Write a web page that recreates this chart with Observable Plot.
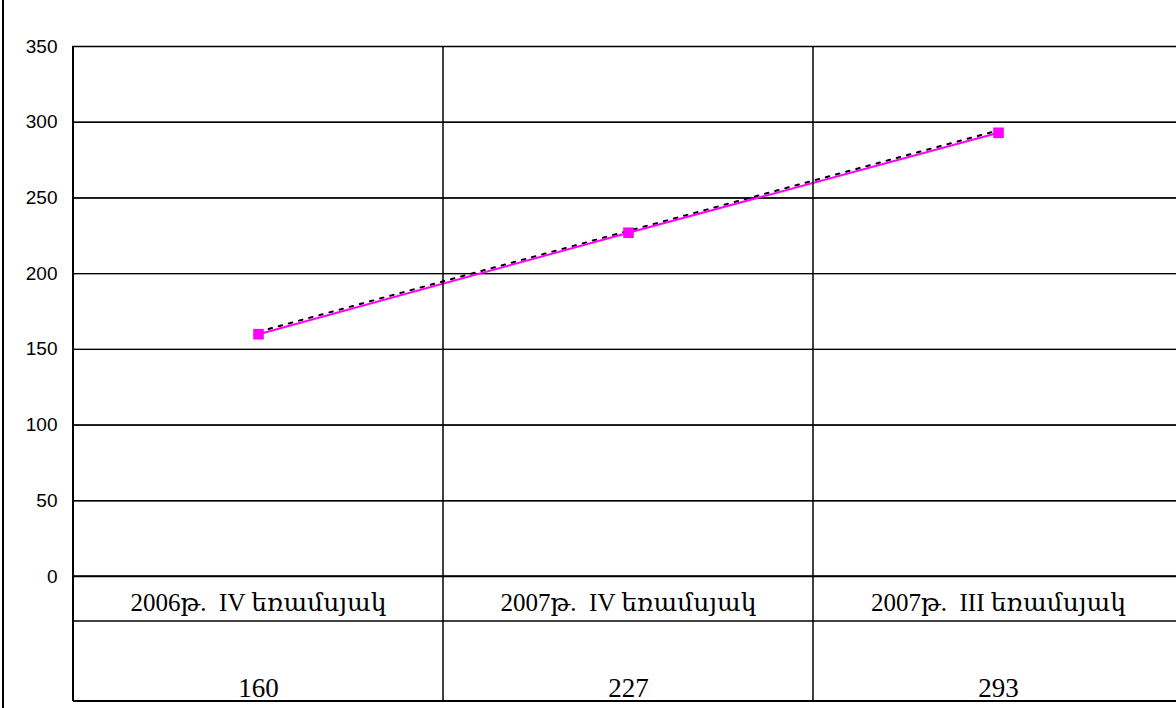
<!DOCTYPE html>
<html>
<head>
<meta charset="utf-8">
<script src="https://cdn.jsdelivr.net/npm/d3@7"></script>
<script src="https://cdn.jsdelivr.net/npm/@observablehq/plot@0.6"></script>
<style>
  html, body { margin: 0; padding: 0; background: #fff; overflow: hidden; }
  svg { display: block; }
</style>
</head>
<body>
<div id="chart"></div>
<script>
const categories = ["2006թ.  IV եռամսյակ", "2007թ.  IV եռամսյակ", "2007թ.  III եռամսյակ"];
const values = [160, 227, 293];
const trendValues = [161, 227.6, 294];
const valueLabels = ["160", "227", "293"];
const yTicks = [0, 50, 100, 150, 200, 250, 300, 350];

const series = categories.map((c, i) => ({cat: c, v: values[i], t: trendValues[i], label: valueLabels[i]}));

const chart = Plot.plot({
  width: 1176,
  height: 708,
  marginLeft: 72,
  marginTop: 46,
  marginBottom: 132,
  marginRight: -7,
  style: {background: "#fff", overflow: "visible"},
  x: {type: "point", domain: categories, padding: 0.5, axis: null},
  y: {domain: [0, 350], axis: null},
  marks: [
    Plot.gridY(yTicks, {stroke: "#000", strokeOpacity: 1, strokeWidth: 1.4}),
    Plot.axisY(yTicks, {tickSize: 5, tickPadding: 10, fontSize: 19, fontFamily: "Liberation Sans, Arial, sans-serif", stroke: null, fill: "#000", tickFormat: d => String(d)}),
    Plot.tickY(yTicks, {x1: 0, stroke: "#000"}),
    Plot.line(series, {x: "cat", y: "t", stroke: "#000", strokeWidth: 2, strokeDasharray: "3.5,7", dy: -1}),
    Plot.line(series, {x: "cat", y: "v", stroke: "#ff00ff", strokeWidth: 2}),
    Plot.dot(series, {x: "cat", y: "v", symbol: "square", r: 6, fill: "#ff00ff", stroke: null}),
    Plot.text(series, {x: "cat", text: "cat", frameAnchor: "bottom", dy: 34, fontSize: 25, fontFamily: "Liberation Serif, DejaVu Serif, serif", fill: "#000", lineAnchor: "bottom"}),
    Plot.text(series, {x: "cat", text: "label", frameAnchor: "bottom", dy: 120, fontSize: 27, fontFamily: "Liberation Serif, DejaVu Serif, serif", fill: "#000", lineAnchor: "bottom"})
  ]
});

document.getElementById("chart").appendChild(chart);

// Table and vertical grid lines built from the plot's own x scale
const xs = chart.scale("x");
const px = categories.map(c => xs.apply(c));
const step = px[1] - px[0];
const ys = chart.scale("y");
const yTop = ys.apply(350);
const yZero = ys.apply(0);
const rowLine = yZero + 45;
const bottomLine = yZero + 125;
const svg = d3.select(chart);
svg.selectAll("text").style("white-space", "pre");
const g = svg.append("g").attr("stroke", "#000").attr("fill", "none");
const bounds = [px[0] - step / 2, ...px.map(p => p + step / 2)];
bounds.forEach((b, i) => {
  g.append("line").attr("x1", b).attr("x2", b).attr("y1", yTop).attr("y2", bottomLine).attr("stroke-width", i === 0 ? 2 : 1.5);
});
[yZero, rowLine, bottomLine].forEach((y, i) => {
  g.append("line").attr("x1", bounds[0]).attr("x2", bounds[bounds.length - 1]).attr("y1", y).attr("y2", y).attr("stroke-width", i === 2 ? 2 : 1.5);
});
// outer chart-area border on the left
g.append("line").attr("x1", 3).attr("x2", 3).attr("y1", 0).attr("y2", 708).attr("stroke-width", 2);
</script>
</body>
</html>
